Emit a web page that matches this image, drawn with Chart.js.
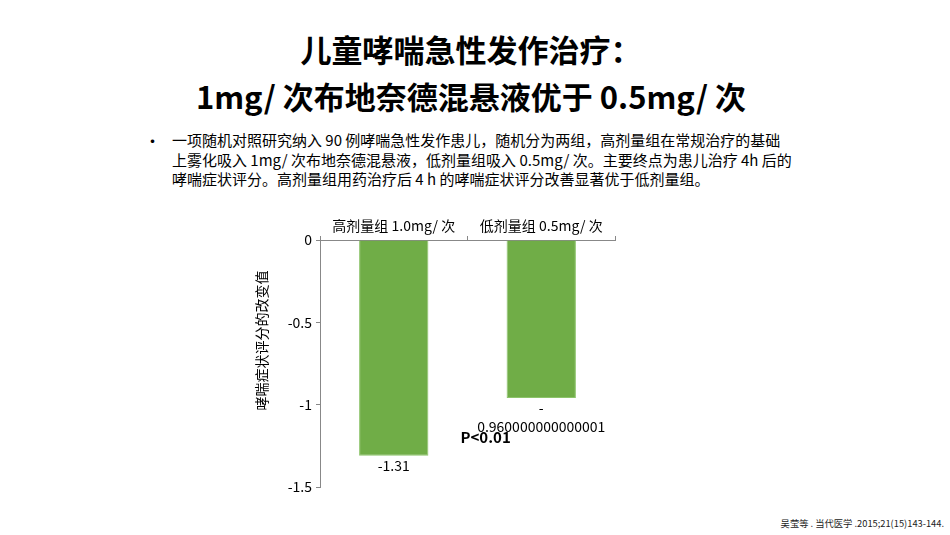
<!DOCTYPE html>
<html>
<head>
<meta charset="utf-8">
<script src="https://cdn.jsdelivr.net/npm/chart.js@4"></script>
<style>
  body { margin: 0; width: 950px; height: 535px; background: #fff; position: relative; overflow: hidden;
         font-family: "Noto Sans CJK SC", "Noto Sans", sans-serif; color: #000; }
  .title { position: absolute; top: 25px; left: 0; width: 942px; text-align: center;
           font-size: 31px; font-weight: bold; line-height: 47px; }
  .bullet { position: absolute; left: 144px; top: 128px; font-size: 17px; }
  .text { position: absolute; left: 172px; top: 130px; font-size: 15px; line-height: 19.5px; white-space: pre; }
  .ref { position: absolute; right: 6px; top: 516px; font-size: 9.3px; color: #222; }
  #wrap { position: absolute; left: 240px; top: 205px; width: 400px; height: 300px; }
</style>
</head>
<body>
<div class="title">儿童哮喘急性发作治疗：<br>1mg/ 次布地奈德混悬液优于 0.5mg/ 次</div>
<div class="bullet">•</div>
<div class="text">一项随机对照研究纳入 90 例哮喘急性发作患儿，随机分为两组，高剂量组在常规治疗的基础
上雾化吸入 1mg/ 次布地奈德混悬液，低剂量组吸入 0.5mg/ 次。主要终点为患儿治疗 4h 后的
哮喘症状评分。高剂量组用药治疗后 4 h 的哮喘症状评分改善显著优于低剂量组。</div>
<div id="wrap"><canvas id="chart"></canvas></div>
<div class="ref">吴莹等 . 当代医学 .2015;21(15)143-144.</div>
<script>
const groups = ["高剂量组 1.0mg/ 次", "低剂量组 0.5mg/ 次"];
const changes = [-1.31, -0.960000000000001];
const valueLabels = [["-1.31"], ["-", "0.960000000000001"]];
const yTicks = [0, -0.5, -1, -1.5];
const yTitle = "哮喘症状评分的改变值";
const pText = "P<0.01";
const pValueY = -1.2;

const axisFont = { family: "'Noto Sans CJK SC', 'Noto Sans', sans-serif", size: 14 };

// value labels, P value note and the axis title
const labelPlugin = {
    id: 'labels',
    afterDatasetsDraw(chart) {
        const ctx = chart.ctx;
        const meta = chart.getDatasetMeta(0);
        const y = chart.scales.y;
        ctx.save();
        ctx.fillStyle = '#000';
        ctx.font = "14px 'Noto Sans CJK SC', sans-serif";
        ctx.textAlign = 'center';
        ctx.textBaseline = 'top';
        meta.data.forEach((bar, i) => {
            valueLabels[i].forEach((line, j) => {
                ctx.fillText(line, bar.x, bar.y + 3 + j * 19);
            });
        });
        const mid = (meta.data[0].x + meta.data[1].x) / 2;
        ctx.font = "bold 15px 'Noto Sans CJK SC', sans-serif";
        ctx.textAlign = 'left';
        ctx.textBaseline = 'middle';
        ctx.fillText(pText, mid - 7, y.getPixelForValue(pValueY));

        ctx.font = "14px 'Noto Sans CJK SC', sans-serif";
        ctx.textAlign = 'center';
        ctx.translate(22, y.getPixelForValue(-0.61));
        ctx.rotate(-Math.PI / 2);
        ctx.fillText(yTitle, 0, 0);
        ctx.restore();
    }
};

new Chart(document.getElementById('chart'), {
    type: 'bar',
    data: {
        labels: groups,
        datasets: [{
            data: changes,
            backgroundColor: '#70AD47',
            borderColor: '#8cc46a',
            borderWidth: 1,
            categoryPercentage: 0.94,
            barPercentage: 0.5
        }]
    },
    plugins: [labelPlugin],
    options: {
        responsive: true,
        maintainAspectRatio: false,
        animation: false,
        layout: { padding: { left: 0, top: 0, right: 25, bottom: 18 } },
        plugins: {
            legend: { display: false },
            tooltip: { enabled: false }
        },
        scales: {
            x: {
                position: 'top',
                afterFit: s => { s.height = 35; },
                grid: { drawOnChartArea: false, color: '#888', tickLength: 4, offset: true },
                border: { color: '#888' },
                ticks: { color: '#000', font: axisFont, padding: 2 }
            },
            y: {
                min: -1.5,
                max: 0,
                afterFit: s => { s.width = 80; },
                afterBuildTicks: s => { s.ticks = yTicks.map(v => ({ value: v })); },
                grid: { drawOnChartArea: false, color: '#888', tickLength: 4 },
                border: { color: '#888' },
                ticks: { color: '#000', font: axisFont, padding: 4, callback: v => String(v) }
            }
        }
    }
});
</script>
</body>
</html>
